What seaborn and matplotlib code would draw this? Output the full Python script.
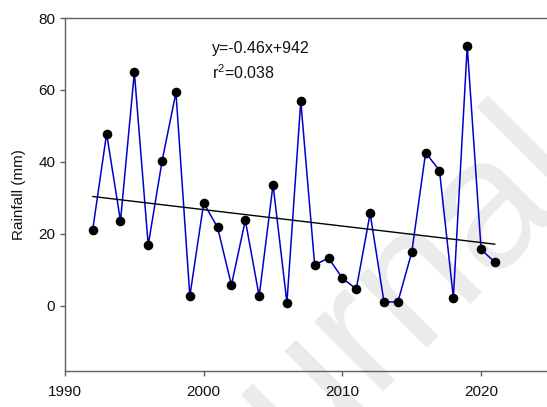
import numpy as np
import pandas as pd
import matplotlib
matplotlib.use("Agg")
import matplotlib.pyplot as plt
import seaborn as sns

# Annual rainfall series
years = list(range(1992, 2022))
rainfall = [21.2, 47.9, 23.6, 64.9, 16.9, 40.3, 59.3, 2.7, 28.6, 21.8,
            5.8, 23.8, 2.7, 33.7, 0.9, 56.9, 11.4, 13.3, 7.7, 4.7,
            25.7, 1.1, 1.1, 14.9, 42.6, 37.6, 2.3, 72.2, 15.7, 12.1]

x_ticks = [1990, 2000, 2010, 2020]
y_ticks = [0, 20, 40, 60, 80]
equation_text = "y=-0.46x+942"
r2_text = r"r$^\mathregular{2}$=0.038"

sns.set_theme(style="ticks")
plt.rcParams["font.family"] = ["Liberation Sans", "DejaVu Sans"]
plt.rcParams["mathtext.fontset"] = "custom"
plt.rcParams["mathtext.rm"] = "Liberation Sans"
plt.rcParams["mathtext.it"] = "Liberation Sans:italic"

df = pd.DataFrame({"year": years, "rain": rainfall})

W, H = 547, 407
fig = plt.figure(figsize=(W / 100, H / 100), dpi=100)
ax = fig.add_axes([65 / W, 1 - 370.7 / H, (W - 65) / W, (370.7 - 18) / H])
ax.patch.set_alpha(0)

# faint diagonal watermark behind the plot
fig.text(0.30, -0.50, "Journal Pre-proof", rotation=45, rotation_mode="anchor",
         ha="left", va="baseline", fontsize=133, color="#ebebeb", zorder=-1)

sns.lineplot(data=df, x="year", y="rain", color="#0000CC", lw=1.1, ax=ax, zorder=2)
sns.scatterplot(data=df, x="year", y="rain", color="black", s=48,
                edgecolor="black", linewidth=0, ax=ax, zorder=3)
sns.regplot(data=df, x="year", y="rain", scatter=False, ci=None, truncate=True,
            color="black", line_kws={"lw": 1.0, "zorder": 2.5}, ax=ax)

ax.set_xlim(1990, 1990 + (W - 65) / 13.87)
ax.set_ylim(-18, 80)
ax.set_xticks(x_ticks)
ax.set_xticklabels([str(t) for t in x_ticks])
ax.set_yticks(y_ticks)
ax.set_yticklabels([str(t) for t in y_ticks])

for side in ["left", "bottom", "top"]:
    ax.spines[side].set_color("#606060")
    ax.spines[side].set_linewidth(1.0)
ax.spines["right"].set_visible(False)

ax.tick_params(axis="both", direction="out", length=3.6, width=1.0,
               color="#606060", labelcolor="#111111", labelsize=11)
ax.tick_params(axis="x", pad=7)
ax.tick_params(axis="y", pad=3.5)

ax.set_xlabel("")
ax.set_ylabel("Rainfall (mm)", fontsize=11, labelpad=9, color="#111111")

fig.text(212 / W, 1 - 53 / H, equation_text, fontsize=11.5, va="baseline",
         ha="left", color="#111111")
fig.text(212 / W, 1 - 79 / H, r2_text, fontsize=11.5, va="baseline",
         ha="left", color="#111111")

fig.savefig("out.png", dpi=100)
